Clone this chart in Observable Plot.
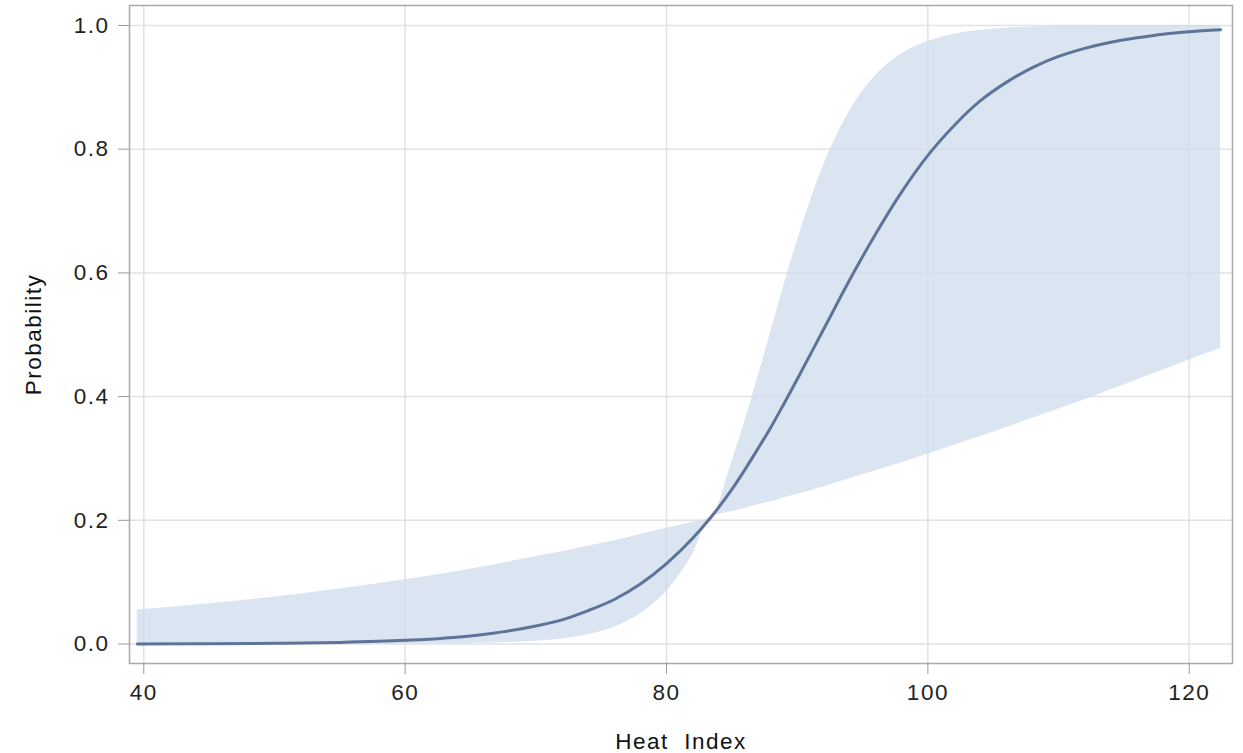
<!DOCTYPE html>
<html>
<head>
<meta charset="utf-8">
<script src="https://cdn.jsdelivr.net/npm/d3@7"></script>
<script src="https://cdn.jsdelivr.net/npm/@observablehq/plot@0.6"></script>
<style>
  html, body { margin: 0; padding: 0; background: #fff; }
  #chart svg { display: block; }
  #chart svg text { letter-spacing: 1.5px; }
</style>
</head>
<body>
<div id="chart"></div>
<script>
// Heat index (x) values
const heatIndex = [39.5, 45, 50, 55, 60, 65, 70, 72, 74, 76, 78, 80, 82, 83.4,
  85, 86, 87, 88, 89, 90, 92, 94, 96, 98, 100, 102, 104, 106, 108, 110, 112, 114, 116, 118, 120, 122.4];

// Predicted probability (line)
const probability = [0.0002, 0.0005, 0.0012, 0.0026, 0.0059, 0.013, 0.029, 0.039, 0.054, 0.072, 0.097, 0.130, 0.171, 0.205,
  0.250, 0.282, 0.316, 0.351, 0.389, 0.428, 0.508, 0.588, 0.663, 0.731, 0.790, 0.838, 0.878, 0.908, 0.932, 0.950, 0.963, 0.973, 0.980, 0.986, 0.990, 0.993];

// Confidence band limits
const lowerCL = [0.0000, 0.0000, 0.0000, 0.0001, 0.0002, 0.001, 0.0046, 0.0083, 0.015, 0.027, 0.049, 0.085, 0.145, 0.205,
  0.214, 0.219, 0.225, 0.230, 0.236, 0.242, 0.254, 0.267, 0.280, 0.293, 0.307, 0.321, 0.335, 0.350, 0.365, 0.380, 0.395, 0.411, 0.427, 0.443, 0.459, 0.478];
const upperCL = [0.055, 0.065, 0.076, 0.089, 0.104, 0.121, 0.141, 0.149, 0.158, 0.167, 0.177, 0.187, 0.197, 0.205,
  0.294, 0.360, 0.432, 0.506, 0.581, 0.651, 0.773, 0.861, 0.919, 0.954, 0.974, 0.986, 0.992, 0.9955, 0.9975, 0.9986, 0.9992, 0.9995, 0.9997, 0.9998, 0.9999, 0.9999];

const xTicks = [40, 60, 80, 100, 120];
const yTicks = [0, 0.2, 0.4, 0.6, 0.8, 1.0];
const xLabel = "Heat  Index";
const yLabel = "Probability";

const rows = heatIndex.map((x, i) => ({x, p: probability[i], lo: lowerCL[i], hi: upperCL[i]}));

const font = "'Liberation Sans', Arial, Helvetica, sans-serif";

const chart = Plot.plot({
  width: 1243,
  height: 753,
  marginLeft: 129,
  marginRight: 11,
  marginTop: 5,
  marginBottom: 90,
  style: {fontFamily: font, fontSize: "22px", background: "#fff", color: "#333"},
  x: {domain: [38.906, 123.31], label: null},
  y: {domain: [-0.0315, 1.0323], label: null},
  marks: [
    Plot.gridX(xTicks, {stroke: "#e2e2e2", strokeOpacity: 1, strokeWidth: 1.5}),
    Plot.gridY(yTicks, {stroke: "#e2e2e2", strokeOpacity: 1, strokeWidth: 1.5}),
    Plot.areaY(rows, {x: "x", y1: "lo", y2: "hi", fill: "#cfdcec", fillOpacity: 0.75, curve: "monotone-x"}),
    Plot.line(rows, {x: "x", y: "p", stroke: "#5d7399", strokeWidth: 3, curve: "monotone-x"}),
    Plot.frame({stroke: "#a9a9a9", strokeWidth: 1.5}),
    Plot.axisX({ticks: xTicks, tickSize: 11, tickPadding: 10, stroke: "#9a9a9a", fill: "#222", fontSize: 22.5, label: null}),
    Plot.axisY({ticks: yTicks, tickSize: 11, tickPadding: 9, tickFormat: d3.format(".1f"), stroke: "#9a9a9a", fill: "#222", fontSize: 22.5, label: null}),
    Plot.text([xLabel], {frameAnchor: "bottom", dy: 78, fontSize: 22.5, fill: "#111", textAnchor: "middle", lineAnchor: "middle"}),
    Plot.text([yLabel], {frameAnchor: "left", dx: -96, rotate: -90, fontSize: 22.5, fill: "#111", textAnchor: "middle", lineAnchor: "middle"})
  ]
});

document.getElementById("chart").appendChild(chart);
</script>
</body>
</html>
